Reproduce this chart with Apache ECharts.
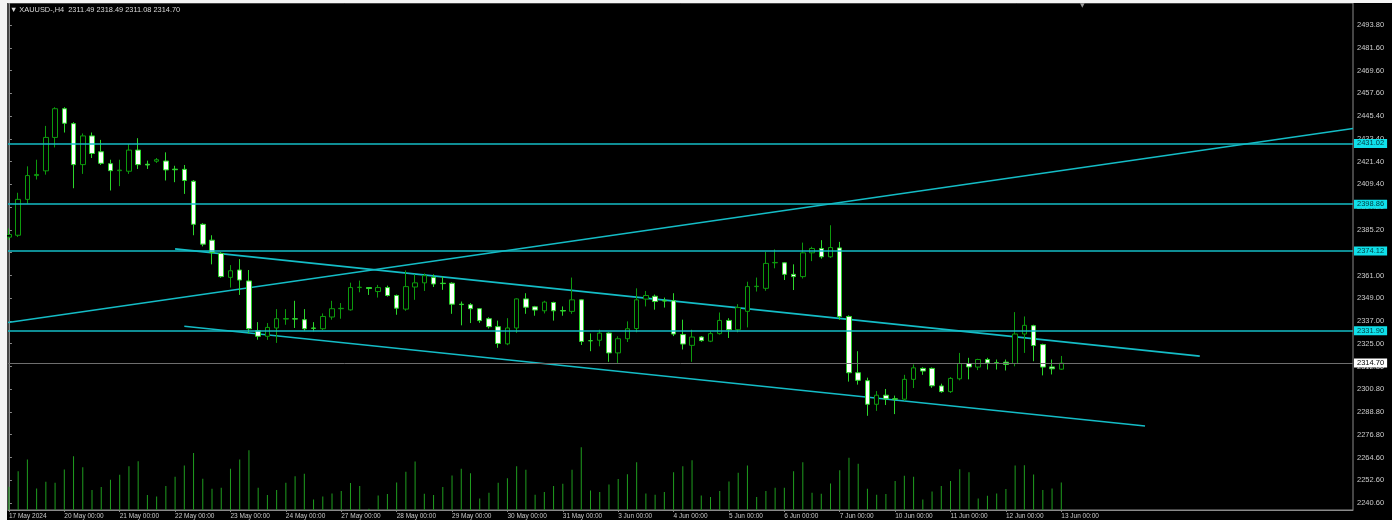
<!DOCTYPE html>
<html><head><meta charset="utf-8">
<script src="https://cdn.jsdelivr.net/npm/echarts@6/dist/echarts.min.js"></script>
<style>html,body{margin:0;padding:0;background:#000;}#c{width:1392px;height:520px;}</style>
</head><body><div id="c"></div>
<script>
const chartTitle = 'XAUUSD-,H4';
const headerOHLC = ['2311.49', '2318.49', '2311.08', '2314.70'];
const opens = [2381.4,2382.4,2401.4,2414.0,2416.5,2434.2,2449.4,2441.5,2419.8,2435.0,
2426.6,2420.3,2416.6,2416.3,2427.5,2420.0,2421.6,2421.7,2417.4,2417.3,
2411.0,2388.2,2379.8,2372.8,2360.1,2364.0,2358.2,2331.9,2328.9,2333.3,
2338.0,2338.2,2337.7,2333.3,2332.9,2339.1,2343.5,2342.9,2354.7,2354.7,
2352.6,2354.7,2350.5,2343.3,2355.0,2357.2,2360.0,2357.0,2357.0,2345.9,
2345.6,2343.5,2338.2,2334.0,2324.9,2333.3,2348.7,2344.5,2342.4,2346.8,
2342.5,2342.1,2348.2,2326.6,2326.8,2330.6,2320.1,2327.6,2333.0,2348.6,
2350.1,2347.7,2347.7,2329.8,2324.1,2328.5,2326.3,2330.3,2337.3,2332.4,
2342.1,2355.2,2354.3,2367.8,2367.8,2361.7,2360.5,2373.1,2375.4,2371.0,
2375.7,2339.4,2309.6,2305.4,2292.9,2297.7,2295.8,2295.6,2306.1,2311.9,
2311.9,2302.6,2299.6,2306.4,2314.5,2312.6,2316.6,2314.9,2315.2,2314.5,
2330.1,2334.5,2324.5,2312.7,2311.49];
const highs = [2386.0,2404.9,2418.9,2422.4,2440.3,2450.2,2450.2,2442.3,2436.3,2436.8,
2432.9,2422.4,2422.4,2430.7,2433.8,2421.9,2423.3,2426.3,2419.2,2419.6,
2411.6,2388.8,2382.4,2373.5,2366.6,2369.8,2364.0,2336.4,2335.9,2343.3,
2343.3,2347.7,2343.3,2336.4,2341.0,2347.7,2346.5,2357.3,2358.4,2355.0,
2356.1,2355.7,2351.0,2363.8,2361.7,2362.2,2361.7,2360.5,2357.5,2347.3,
2346.5,2343.8,2339.0,2337.2,2338.5,2349.0,2351.7,2345.0,2347.7,2347.2,
2344.7,2360.0,2348.5,2330.4,2332.4,2331.0,2328.9,2336.8,2354.3,2352.9,
2351.0,2349.4,2351.7,2337.7,2332.4,2329.0,2331.5,2341.5,2338.5,2345.9,
2357.8,2360.0,2373.6,2374.9,2368.2,2367.0,2378.5,2376.3,2379.8,2387.7,
2378.9,2340.0,2321.0,2307.0,2299.9,2301.0,2297.5,2308.5,2314.0,2312.5,
2312.4,2303.8,2307.3,2320.1,2317.5,2317.0,2317.5,2316.6,2316.6,2341.7,
2339.4,2335.0,2325.0,2316.6,2318.49];
const lows = [2380.0,2381.5,2399.1,2411.9,2414.5,2428.9,2436.8,2407.3,2414.9,2423.3,
2419.6,2406.1,2408.4,2414.9,2417.5,2417.5,2420.7,2411.4,2410.5,2404.3,
2382.4,2376.5,2367.0,2359.9,2354.7,2350.8,2330.5,2327.1,2327.0,2325.4,
2335.0,2333.3,2331.9,2331.5,2332.2,2337.7,2338.2,2342.5,2352.2,2350.8,
2349.4,2349.9,2340.3,2342.4,2348.2,2352.9,2355.0,2353.5,2340.8,2334.7,
2335.9,2336.0,2333.0,2322.8,2324.2,2330.7,2340.8,2339.8,2341.0,2337.2,
2339.8,2340.8,2324.3,2321.0,2323.6,2315.4,2314.8,2325.9,2331.0,2344.7,
2343.0,2344.1,2329.0,2321.9,2315.4,2326.0,2325.8,2329.8,2328.0,2331.0,
2333.6,2352.6,2353.0,2364.9,2358.7,2353.4,2359.5,2368.7,2370.0,2370.4,
2337.7,2304.9,2303.3,2286.8,2289.4,2292.5,2287.7,2294.8,2301.5,2308.5,
2301.6,2299.0,2298.9,2305.6,2306.1,2311.0,2311.3,2311.3,2310.8,2313.0,
2320.1,2315.7,2308.2,2308.7,2311.08];
const closes = [2382.8,2401.4,2414.0,2414.6,2434.2,2449.4,2441.7,2419.8,2435.0,2425.7,
2420.5,2416.6,2416.9,2427.5,2419.8,2419.6,2422.4,2417.0,2417.1,2411.4,
2388.2,2377.7,2373.3,2360.5,2363.6,2358.7,2332.9,2328.9,2333.6,2338.2,
2338.3,2338.0,2332.9,2333.1,2339.4,2343.5,2343.7,2354.7,2354.9,2354.2,
2354.7,2350.5,2343.8,2355.2,2357.2,2361.0,2356.6,2356.8,2345.9,2345.7,
2343.5,2337.2,2334.0,2325.1,2333.3,2348.7,2344.3,2342.8,2347.0,2342.4,
2342.3,2348.2,2326.2,2326.5,2330.6,2320.1,2327.6,2332.9,2348.2,2350.5,
2347.3,2347.6,2330.1,2324.8,2328.5,2326.6,2330.3,2337.3,2332.4,2344.1,
2355.2,2355.4,2367.5,2368.0,2361.7,2360.5,2373.1,2375.4,2371.0,2375.9,
2339.4,2309.6,2305.6,2292.9,2297.7,2295.8,2295.6,2306.1,2312.2,2310.5,
2302.7,2299.6,2306.6,2314.5,2312.7,2316.6,2314.8,2314.7,2314.0,2330.1,
2334.7,2324.0,2312.6,2311.7,2314.70];
const volumes = [70,117,152,65,85,82,122,162,129,60,
69,91,106,132,147,45,41,72,100,134,
172,94,64,67,124,152,180,67,45,60,
82,102,109,32,41,50,57,81,72,4,
44,48,83,115,146,49,45,69,104,124,
111,35,52,82,96,132,121,46,54,72,
79,121,189,59,54,77,93,108,144,50,
46,54,114,132,150,44,39,57,86,112,
134,39,57,67,67,117,144,52,49,80,
120,157,139,64,46,48,87,103,100,32,
56,72,87,123,114,35,43,50,63,134,
135,107,60,65,83];
const dayLabels = ['17 May 2024','20 May 00:00','21 May 00:00','22 May 00:00','23 May 00:00','24 May 00:00',
'27 May 00:00','28 May 00:00','29 May 00:00','30 May 00:00','31 May 00:00','3 Jun 00:00','4 Jun 00:00',
'5 Jun 00:00','6 Jun 00:00','7 Jun 00:00','10 Jun 00:00','11 Jun 00:00','12 Jun 00:00','13 Jun 00:00'];
const barsPerDay = 6;
const priceTicks = [2493.80,2481.60,2469.60,2457.60,2445.40,2433.40,2421.40,2409.40,2397.20,2385.20,
2373.20,2361.00,2349.00,2337.00,2325.00,2312.80,2300.80,2288.80,2276.80,2264.60,2252.60,2240.60];
const hLevels = [2431.02, 2398.86, 2374.12, 2331.90];
const lastPrice = 2314.70;
const trendRising = [[-0.1, 2336.2], [145.6, 2438.96]];
const channelUpper = [[18.0, 2375.2], [129.0, 2318.4]];
const channelLower = [[19.0, 2334.2], [123.07, 2281.4]];

const candleData = opens.map((o, i) => [i, o, closes[i], lows[i], highs[i]]);
const volData = volumes.map((v, i) => [i, v]);
const xTickIdx = dayLabels.map((d, k) => k * barsPerDay);
const FONT = 'Liberation Sans, Arial, sans-serif';
const CYAN = '#14bcc6';

const hLineData = hLevels.map(v => ({
  yAxis: v,
  lineStyle: {color: CYAN, width: 1.6, type: 'solid'},
  label: {show: true, position: 'end', distance: 1, formatter: p => p.value.toFixed(2),
    backgroundColor: '#10e0ea', color: '#003c40', fontSize: 7.5, fontFamily: FONT,
    padding: [1, 3, 1, 3], lineHeight: 7}
}));
hLineData.push({
  yAxis: lastPrice,
  lineStyle: {color: '#6e6e6e', width: 1, type: 'solid'},
  label: {show: true, position: 'end', distance: 1, formatter: p => p.value.toFixed(2),
    backgroundColor: '#ffffff', color: '#000000', fontSize: 7.5, fontFamily: FONT,
    padding: [1, 3, 1, 3], lineHeight: 7}
});

const trendSeries = [trendRising, channelUpper, channelLower].map(d => ({
  type: 'line', data: d, xAxisIndex: 0, yAxisIndex: 0, showSymbol: false, symbol: 'none',
  silent: true, animation: false, clip: true,
  lineStyle: {color: CYAN, width: 1.6}, z: 3
}));

const chart = echarts.init(document.getElementById('c'), null, {renderer: 'canvas'});
chart.setOption({
  backgroundColor: '#000000',
  animation: false,
  grid: {left: 8, right: 39, top: 3, bottom: 7, show: true, borderColor: '#8a8a8a', borderWidth: 1, containLabel: false},
  xAxis: {
    type: 'value', min: -0.1, max: 145.6,
    splitLine: {show: false},
    axisLine: {show: true, lineStyle: {color: '#8a8a8a'}},
    axisTick: {show: true, customValues: xTickIdx, length: 2, lineStyle: {color: '#8a8a8a'}},
    axisLabel: {show: true, customValues: xTickIdx, formatter: v => dayLabels[Math.round(v / barsPerDay)],
      color: '#c8c8c8', fontSize: 6.5, fontFamily: FONT, align: 'left', margin: 3}
  },
  yAxis: [{
    type: 'value', position: 'right', min: 2236.92, max: 2505.38, scale: true,
    splitLine: {show: false},
    axisLine: {show: true, lineStyle: {color: '#8a8a8a'}},
    axisTick: {show: true, customValues: priceTicks, length: 3, lineStyle: {color: '#8a8a8a'}},
    axisLabel: {show: true, customValues: priceTicks, formatter: v => v.toFixed(2),
      color: '#cccccc', fontSize: 7.5, fontFamily: FONT, margin: 4}
  }, {
    type: 'value', show: false, min: 0, max: 1527, splitLine: {show: false}
  }],
  series: [
    {type: 'bar', data: volData, xAxisIndex: 0, yAxisIndex: 1, barWidth: 1, silent: true,
      itemStyle: {color: '#1f9e1f'}, z: 1},
    {type: 'candlestick', data: candleData, xAxisIndex: 0, yAxisIndex: 0, barWidth: 5, silent: true, z: 4,
      itemStyle: {color: '#000000', color0: '#ffffff', borderColor: '#0d9a0d', borderColor0: '#2bd62b', borderWidth: 1},
      markLine: {symbol: ['none', 'none'], silent: true, animation: false, data: hLineData, z: 5}
    },
    ...trendSeries
  ],
  graphic: [
    {type: 'rect', left: 0, top: 0, shape: {width: 7, height: 520}, style: {fill: '#f4f4f4'}, z: 100},
    {type: 'rect', left: 0, top: 0, shape: {width: 1392, height: 3}, style: {fill: '#f4f4f4'}, z: 100},
    {type: 'text', left: 10, top: 6, z: 100, style: {text: '\u25BC ' + chartTitle + '  ' + headerOHLC.join(' '),
      fill: '#d8d8d8', font: '7.4px ' + FONT}},
    {type: 'text', left: 1080, top: 2, z: 100, style: {text: '\u25BC', fill: '#9a9a9a', font: '6px DejaVu Sans'}}
  ]
});
</script></body></html>
